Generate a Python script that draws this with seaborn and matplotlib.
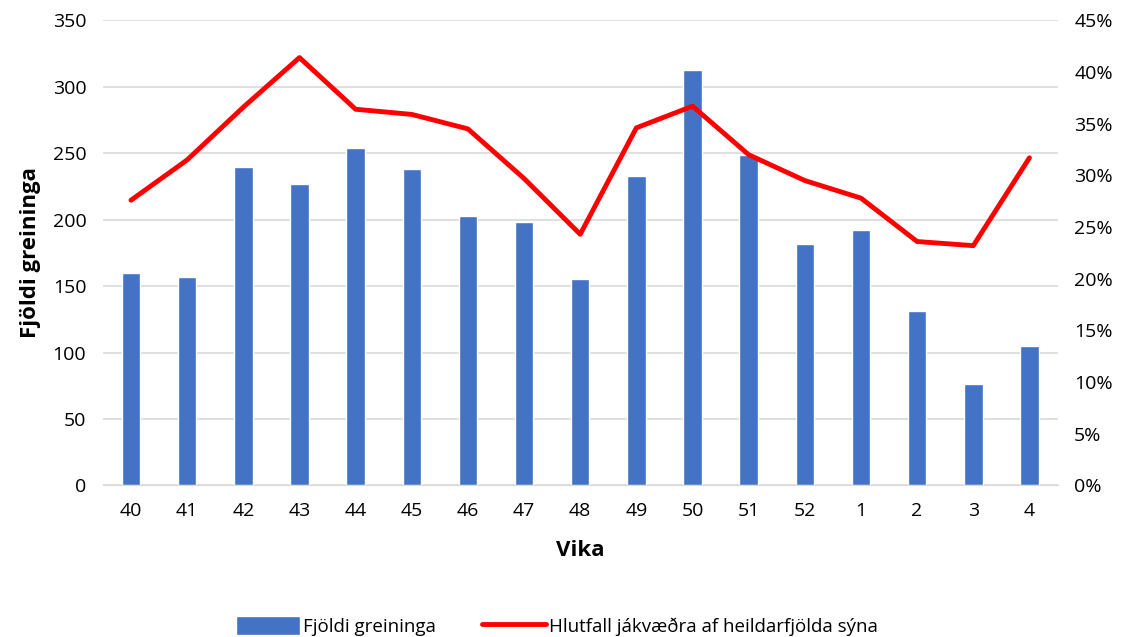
import numpy as np
import pandas as pd
import seaborn as sns
from matplotlib import pyplot as plt
from matplotlib.ticker import PercentFormatter, MultipleLocator

# data
weeks = ["40", "41", "42", "43", "44", "45", "46", "47", "48", "49", "50",
         "51", "52", "1", "2", "3", "4"]
counts = [160, 157, 240, 227, 254, 238, 203, 198, 155, 233, 313,
          249, 182, 192, 131, 76, 105]
positive_pct = [27.6, 31.5, 36.6, 41.4, 36.4, 35.9, 34.5, 29.7, 24.3, 34.6, 36.7,
                32.0, 29.5, 27.8, 23.6, 23.2, 31.7]

df = pd.DataFrame({"Vika": weeks, "Fjöldi": counts, "Hlutfall": positive_pct})
df["pos"] = np.arange(len(weeks))

sns.set_style("white")
plt.rcParams["font.family"] = ["Open Sans", "DejaVu Sans"]
plt.rcParams["text.color"] = "black"
plt.rcParams["axes.labelcolor"] = "black"
plt.rcParams["xtick.color"] = "black"
plt.rcParams["ytick.color"] = "black"

fig, ax = plt.subplots(figsize=(11.25, 6.37), dpi=100)
fig.subplots_adjust(left=0.0915, right=0.94, top=0.968, bottom=0.238)

sns.barplot(data=df, x="Vika", y="Fjöldi", order=weeks, color="#4472C4",
            width=0.33, saturation=1, ax=ax, label="Fjöldi greininga")
ax.set_ylim(0, 350)
ax.yaxis.set_major_locator(MultipleLocator(50))
ax.grid(axis="y", color="#D9D9D9", linewidth=1.2)
ax.set_axisbelow(True)
for s in ["top", "right", "left"]:
    ax.spines[s].set_visible(False)
ax.spines["bottom"].set_color("#D9D9D9")
ax.tick_params(axis="both", length=0, labelsize=14, pad=12)
ax.set_xlabel("Vika", fontsize=16, fontweight="bold", labelpad=14)
ax.set_ylabel("Fjöldi greininga", fontsize=16, fontweight="bold", labelpad=8)
ax.set_xlim(-0.5, len(weeks) - 0.5)

ax2 = ax.twinx()
sns.lineplot(data=df, x="pos", y="Hlutfall", color="#FF0000", linewidth=3.5,
             ax=ax2, label="Hlutfall jákvæðra af heildarfjölda sýna",
             solid_capstyle="round", legend=False)
ax2.set_ylim(0, 45)
ax2.yaxis.set_major_locator(MultipleLocator(5))
ax2.yaxis.set_major_formatter(PercentFormatter(decimals=0))
ax2.tick_params(axis="y", length=0, labelsize=14, pad=12)
ax2.set_ylabel("")
for s in ax2.spines.values():
    s.set_visible(False)
ax2.set_xlim(-0.5, len(weeks) - 0.5)

h1, l1 = ax.get_legend_handles_labels()
h2, l2 = ax2.get_legend_handles_labels()
if ax.get_legend():
    ax.get_legend().remove()
fig.legend(h1 + h2, l1 + l2, loc="lower center", ncol=2, frameon=False,
           bbox_to_anchor=(0.495, -0.025), handlelength=3.4, handleheight=1.2,
           handletextpad=0.15, columnspacing=2.5,
           prop={"family": ["Open Sans", "DejaVu Sans"], "size": 13.5})

fig.savefig("out.png", dpi=100)
